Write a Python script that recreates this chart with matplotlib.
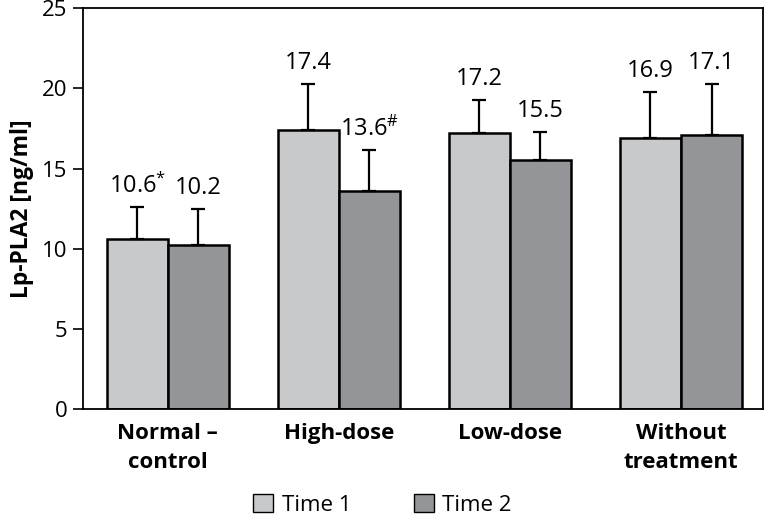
import numpy as np
import matplotlib.pyplot as plt
from matplotlib.patches import Patch

groups = ['Normal –\ncontrol', 'High-dose', 'Low-dose', 'Without\ntreatment']
time1 = [10.6, 17.4, 17.2, 16.9]
time2 = [10.2, 13.6, 15.5, 17.1]
err1 = [2.0, 2.9, 2.1, 2.9]
err2 = [2.3, 2.55, 1.8, 3.2]
labels1 = ['10.6$^{*}$', '17.4', '17.2', '16.9']
labels2 = ['10.2', '13.6$^{\\#}$', '15.5', '17.1']

plt.rcParams['font.family'] = ['Open Sans', 'DejaVu Sans']
plt.rcParams['mathtext.fontset'] = 'custom'
plt.rcParams['mathtext.rm'] = 'Open Sans'
plt.rcParams['mathtext.default'] = 'regular'

c1 = '#c8c9cb'
c2 = '#939598'

fig = plt.figure(figsize=(7.65, 5.15), dpi=100)
ax = fig.add_axes([0.1085, 0.206, 0.889, 0.778])

x = np.arange(len(groups))
w = 0.357
ekw = dict(elinewidth=1.6, capsize=5, capthick=1.6, ecolor='black')
ax.bar(x - w / 2, time1, w, color=c1, edgecolor='black', linewidth=1.8,
       yerr=[np.zeros(4), err1], error_kw=ekw, zorder=2)
ax.bar(x + w / 2, time2, w, color=c2, edgecolor='black', linewidth=1.8,
       yerr=[np.zeros(4), err2], error_kw=ekw, zorder=2)

# value labels above the error bars
for i in range(len(groups)):
    ax.annotate(labels1[i], (x[i] - w / 2, time1[i] + err1[i]), xytext=(0, 6),
                textcoords='offset points', ha='center', va='bottom', fontsize=17)
    ax.annotate(labels2[i], (x[i] + w / 2, time2[i] + err2[i]), xytext=(0, 6),
                textcoords='offset points', ha='center', va='bottom', fontsize=17)

ax.set_xlim(-0.495, 3.48)
ax.set_ylim(0, 25)
ax.set_yticks([0, 5, 10, 15, 20, 25])
ax.tick_params(axis='y', length=7, width=1.2, labelsize=16, pad=4)
ax.set_xticks(x)
ax.set_xticklabels(groups, fontsize=16, fontweight='bold', linespacing=1.5)
ax.tick_params(axis='x', length=0, pad=10)
ax.set_ylabel('Lp-PLA2 [ng/ml]', fontsize=16.5, fontweight='bold', labelpad=6)
for s in ax.spines.values():
    s.set_linewidth(1.3)

handles = [Patch(facecolor=c1, edgecolor='black', label='Time 1'),
           Patch(facecolor=c2, edgecolor='black', label='Time 2')]
fig.legend(handles=handles, loc='lower center', bbox_to_anchor=(0.5, -0.04), ncol=2,
           frameon=False, fontsize=16, handlelength=0.9, handleheight=0.9,
           handletextpad=0.4, columnspacing=2.8)

fig.savefig('out.png', dpi=100)
